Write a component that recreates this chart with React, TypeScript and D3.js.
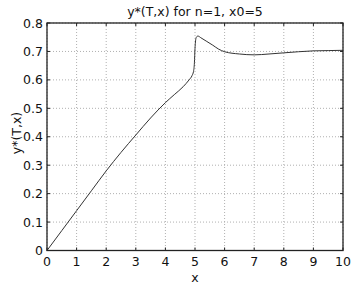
import React from 'react';
import * as d3 from 'd3';

// curve samples
const xs = [0, 0.5, 1, 1.5, 2, 2.5, 3, 3.5, 4, 4.3, 4.6, 4.8, 4.9, 4.95, 4.98, 5.0, 5.03, 5.06, 5.1, 5.2, 5.4, 5.6, 5.8, 6, 6.5, 7, 7.5, 8, 8.5, 9, 9.5, 10];
const ys = [0, 0.07, 0.14, 0.21, 0.28, 0.345, 0.406, 0.466, 0.52, 0.548, 0.576, 0.6, 0.615, 0.63, 0.66, 0.71, 0.745, 0.752, 0.754, 0.748, 0.735, 0.722, 0.708, 0.699, 0.691, 0.688, 0.691, 0.695, 0.699, 0.702, 0.703, 0.704];
const xTicks = [0, 1, 2, 3, 4, 5, 6, 7, 8, 9, 10];
const yTicks = [0, 0.1, 0.2, 0.3, 0.4, 0.5, 0.6, 0.7, 0.8];

const W = 360, H = 288;
const left = 47, right = 343, top = 23, bottom = 250.5;
const font = 'DejaVu Sans, Verdana, sans-serif';

export default function App() {
  const x = d3.scaleLinear().domain([0, 10]).range([left, right]);
  const y = d3.scaleLinear().domain([0, 0.8]).range([bottom, top]);
  const pts: [number, number][] = xs.map((v, i) => [v, ys[i]]);
  const line = d3.line<[number, number]>()
    .x(d => x(d[0]))
    .y(d => y(d[1]))
    .curve(d3.curveMonotoneX);
  const yFmt = (v: number) => (v === 0 ? '0' : d3.format('.1f')(v));

  return (
    <svg width={W} height={H} style={{ position: 'absolute', left: 0, top: 0, background: '#fff' }}>
      <rect width={W} height={H} fill="#fff" />
      {xTicks.map(t => (
        <line key={'gx' + t} x1={x(t)} x2={x(t)} y1={top} y2={bottom}
          stroke="#b0b0b0" strokeWidth={1} strokeDasharray="1,2" />
      ))}
      {yTicks.map(t => (
        <line key={'gy' + t} x1={left} x2={right} y1={y(t)} y2={y(t)}
          stroke="#b0b0b0" strokeWidth={1} strokeDasharray="1,2" />
      ))}
      {xTicks.map(t => (
        <g key={'tx' + t}>
          <line x1={x(t)} x2={x(t)} y1={bottom} y2={bottom - 3} stroke="#222" />
          <line x1={x(t)} x2={x(t)} y1={top} y2={top + 3} stroke="#222" />
          <text x={x(t)} y={bottom + 15} textAnchor="middle" fontFamily={font} fontSize={12.5} fill="#111">{t}</text>
        </g>
      ))}
      {yTicks.map(t => (
        <g key={'ty' + t}>
          <line x1={left} x2={left + 3} y1={y(t)} y2={y(t)} stroke="#222" />
          <line x1={right} x2={right - 3} y1={y(t)} y2={y(t)} stroke="#222" />
          <text x={left - 4} y={y(t) + 4.5} textAnchor="end" fontFamily={font} fontSize={12.5} fill="#111">{yFmt(t)}</text>
        </g>
      ))}
      <path d={line(pts) || ''} fill="none" stroke="#333" strokeWidth={1} />
      <rect x={left} y={top} width={right - left} height={bottom - top} fill="none" stroke="#222" strokeWidth={1.3} />
      <text x={(left + right) / 2} y={16} textAnchor="middle" fontFamily={font} fontSize={12.5} fill="#111">y*(T,x) for n=1, x0=5</text>
      <text x={(left + right) / 2} y={282} textAnchor="middle" fontFamily={font} fontSize={12.5} fill="#111">x</text>
      <text transform={`translate(21,133) rotate(-90)`} textAnchor="middle" fontFamily={font} fontSize={12.5} fill="#111">y*(T,x)</text>
    </svg>
  );
}
